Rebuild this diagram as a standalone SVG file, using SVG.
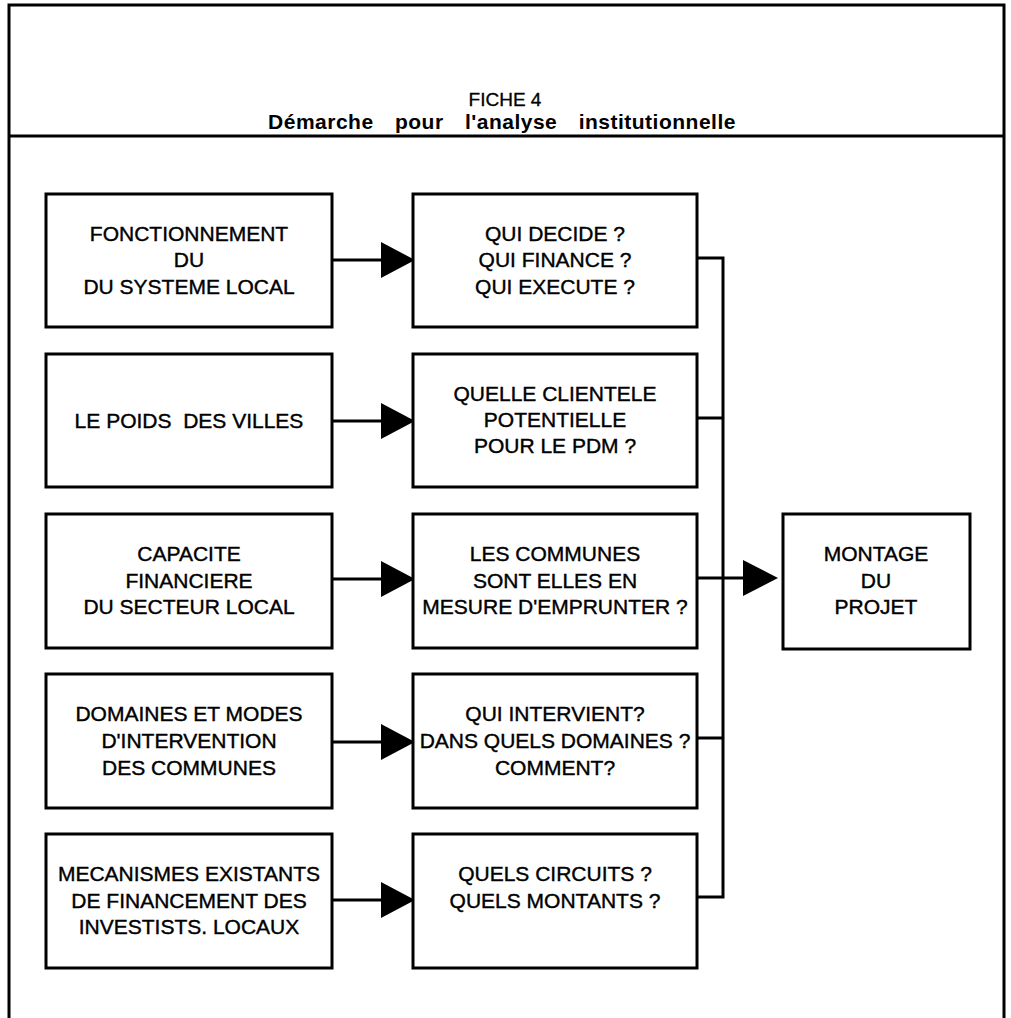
<svg xmlns="http://www.w3.org/2000/svg" width="1011" height="1018" viewBox="0 0 1011 1018">
<style>
.frame{fill:none;stroke:#000;stroke-width:3}
.box{fill:#fff;stroke:#000;stroke-width:3}
.ln{fill:none;stroke:#000;stroke-width:3}
.ah{fill:#000;stroke:none}
.t{font-family:"Liberation Sans",Arial,Helvetica,sans-serif;font-size:21px;fill:#000;stroke:#000;stroke-width:0.4;text-anchor:middle}
.h1{font-family:"Liberation Sans",Arial,Helvetica,sans-serif;font-size:19px;fill:#000;stroke:#000;stroke-width:0.3;text-anchor:middle}
.h2{font-family:"Liberation Sans",Arial,Helvetica,sans-serif;font-size:21px;font-weight:bold;fill:#000;text-anchor:middle;word-spacing:15px;letter-spacing:0.5px}
</style>
<rect width="1011" height="1018" fill="#fff"/>
<g id="frame">
<path class="frame" d="M9,1018 V5 H1004 V1018"/>
<line class="frame" x1="9" y1="136" x2="1004" y2="136"/>
<text class="h1" x="505" y="106">FICHE 4</text>
<text class="h2" x="502" y="129">Démarche pour l'analyse institutionnelle</text>
</g>
<g id="connectors">
<line class="ln" x1="332" y1="260" x2="384" y2="260"/>
<polygon class="ah" points="381,242 415,260 381,278"/>
<line class="ln" x1="332" y1="421" x2="384" y2="421"/>
<polygon class="ah" points="381,403 415,421 381,439"/>
<line class="ln" x1="332" y1="579" x2="384" y2="579"/>
<polygon class="ah" points="381,561 415,579 381,597"/>
<line class="ln" x1="332" y1="742" x2="384" y2="742"/>
<polygon class="ah" points="381,724 415,742 381,760"/>
<line class="ln" x1="332" y1="900" x2="384" y2="900"/>
<polygon class="ah" points="381,882 415,900 381,918"/>
<path class="ln" d="M697,258 H723 V897 H697"/>
<line class="ln" x1="697" y1="418" x2="723" y2="418"/>
<line class="ln" x1="697" y1="738" x2="723" y2="738"/>
<line class="ln" x1="697" y1="578" x2="746" y2="578"/>
<polygon class="ah" points="743,560 778,578 743,596"/>
</g>
<g id="n1">
<rect class="box" x="46" y="194" width="286" height="133"/>
<text class="t" x="189" y="241">FONCTIONNEMENT</text>
<text class="t" x="189" y="267">DU</text>
<text class="t" x="189" y="294">DU SYSTEME LOCAL</text>
</g>
<g id="n2">
<rect class="box" x="46" y="354" width="286" height="133"/>
<text class="t" x="189" y="428">LE POIDS&#160; DES VILLES</text>
</g>
<g id="n3">
<rect class="box" x="46" y="514" width="286" height="134"/>
<text class="t" x="189" y="561">CAPACITE</text>
<text class="t" x="189" y="588">FINANCIERE</text>
<text class="t" x="189" y="614">DU SECTEUR LOCAL</text>
</g>
<g id="n4">
<rect class="box" x="46" y="674" width="286" height="134"/>
<text class="t" x="189" y="721">DOMAINES ET MODES</text>
<text class="t" x="189" y="748">D'INTERVENTION</text>
<text class="t" x="189" y="775">DES COMMUNES</text>
</g>
<g id="n5">
<rect class="box" x="46" y="834" width="286" height="134"/>
<text class="t" x="189" y="881">MECANISMES EXISTANTS</text>
<text class="t" x="189" y="908">DE FINANCEMENT DES</text>
<text class="t" x="189" y="934">INVESTISTS. LOCAUX</text>
</g>
<g id="m1">
<rect class="box" x="413" y="194" width="284" height="133"/>
<text class="t" x="555" y="241">QUI DECIDE ?</text>
<text class="t" x="555" y="267">QUI FINANCE ?</text>
<text class="t" x="555" y="294">QUI EXECUTE ?</text>
</g>
<g id="m2">
<rect class="box" x="413" y="354" width="284" height="133"/>
<text class="t" x="555" y="401">QUELLE CLIENTELE</text>
<text class="t" x="555" y="427">POTENTIELLE</text>
<text class="t" x="555" y="453">POUR LE PDM ?</text>
</g>
<g id="m3">
<rect class="box" x="413" y="514" width="284" height="134"/>
<text class="t" x="555" y="561">LES COMMUNES</text>
<text class="t" x="555" y="588">SONT ELLES EN</text>
<text class="t" x="555" y="614">MESURE D'EMPRUNTER ?</text>
</g>
<g id="m4">
<rect class="box" x="413" y="674" width="284" height="134"/>
<text class="t" x="555" y="721">QUI INTERVIENT?</text>
<text class="t" x="555" y="748">DANS QUELS DOMAINES ?</text>
<text class="t" x="555" y="775">COMMENT?</text>
</g>
<g id="m5">
<rect class="box" x="413" y="834" width="284" height="134"/>
<text class="t" x="555" y="881">QUELS CIRCUITS ?</text>
<text class="t" x="555" y="908">QUELS MONTANTS ?</text>
</g>
<g id="r1">
<rect class="box" x="783" y="514" width="187" height="135"/>
<text class="t" x="876" y="561">MONTAGE</text>
<text class="t" x="876" y="588">DU</text>
<text class="t" x="876" y="614">PROJET</text>
</g>
</svg>
